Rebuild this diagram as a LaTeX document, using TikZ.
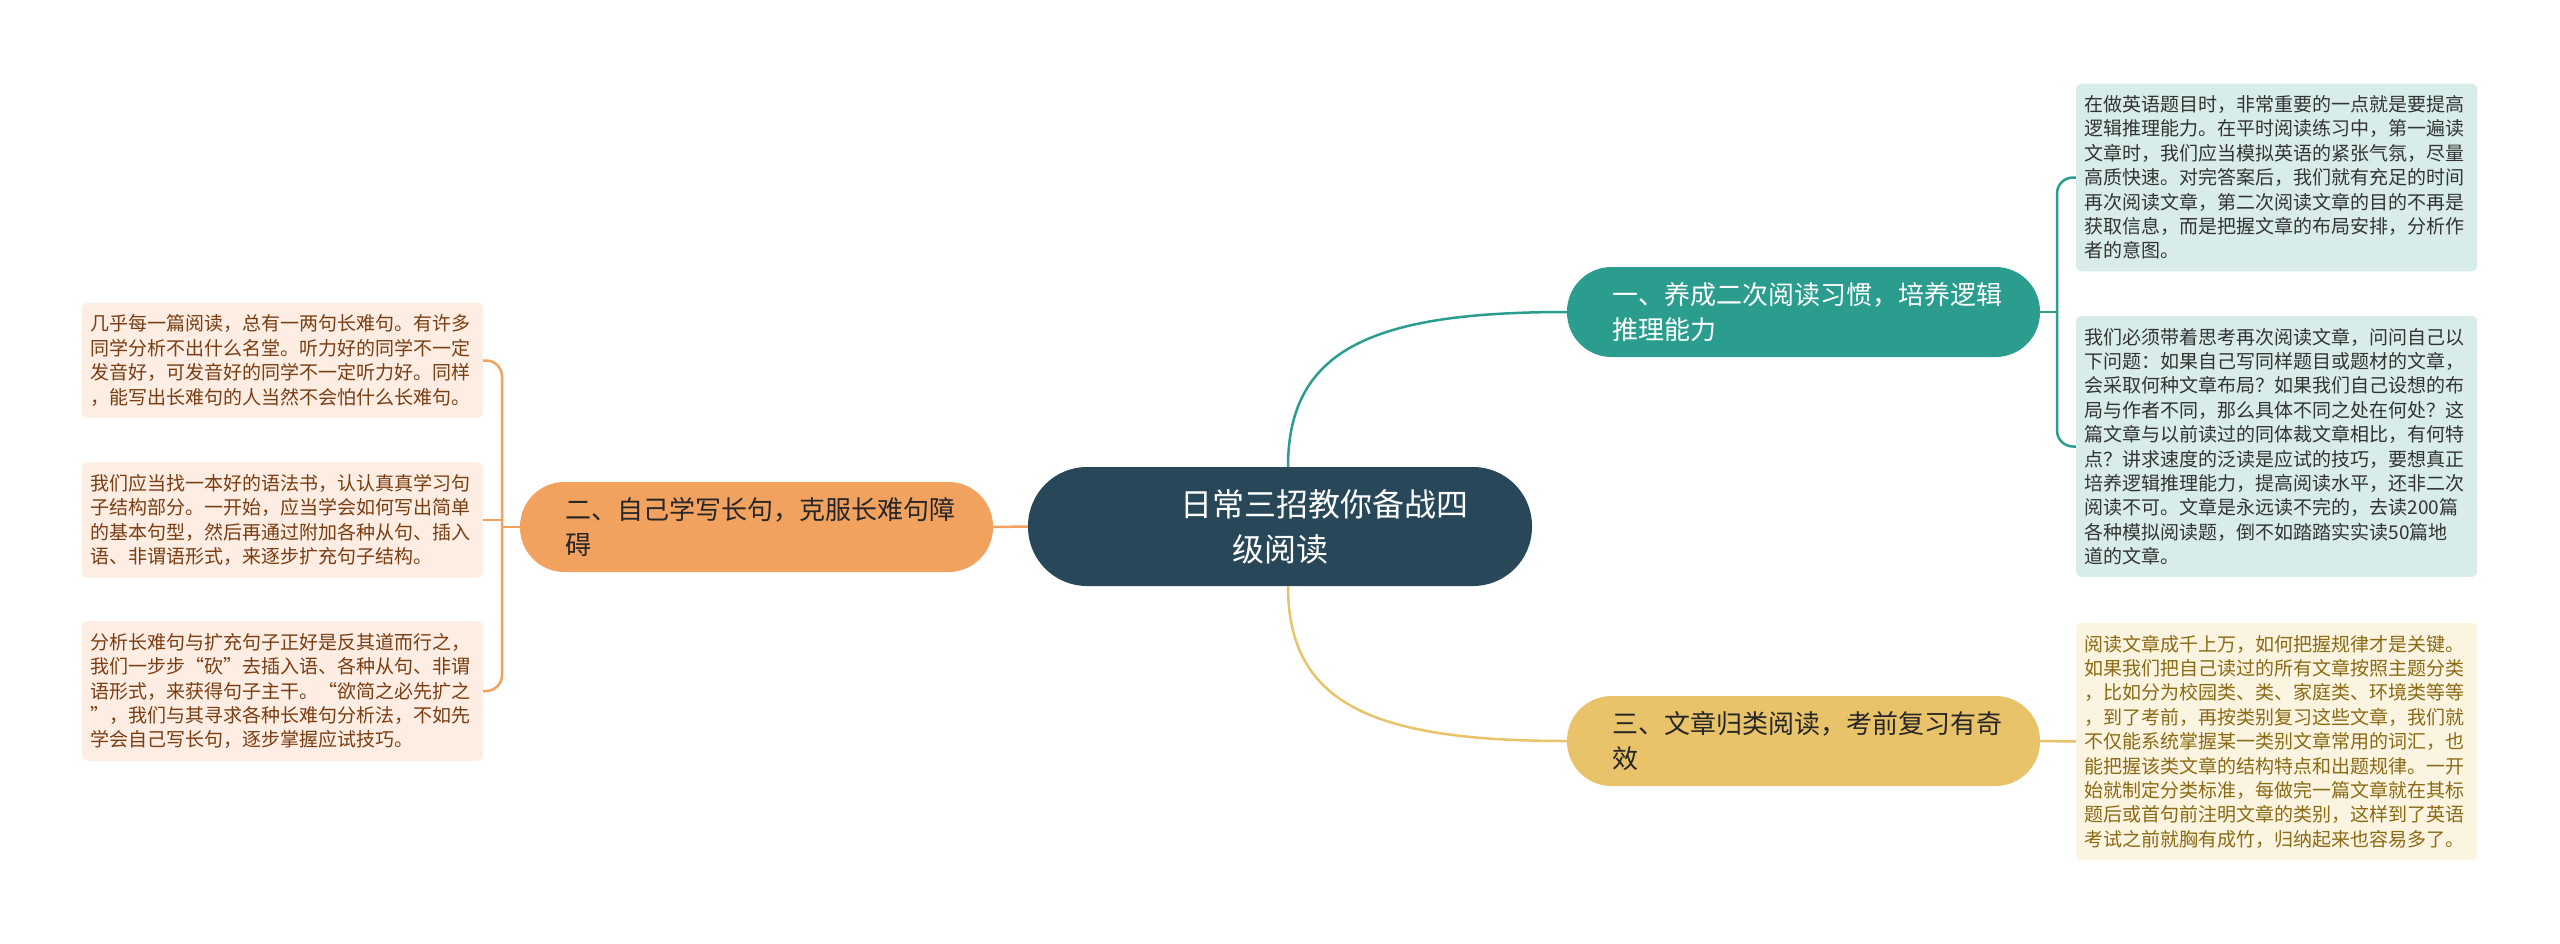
\documentclass[tikz,border=0pt]{standalone}
\usepackage{fontspec}
\setmainfont{Noto Sans CJK SC}
\usepackage{xcolor}
\usetikzlibrary{positioning}

\definecolor{rootfill}{HTML}{28485A}
\definecolor{tealc}{HTML}{2A9D8E}
\definecolor{orangec}{HTML}{F2A25F}
\definecolor{yellowc}{HTML}{E8C36A}
\definecolor{tealleaf}{HTML}{D8EDEA}
\definecolor{orangeleaf}{HTML}{FDEDE3}
\definecolor{yellowleaf}{HTML}{FBF4E1}
\definecolor{tealtext}{HTML}{333333}
\definecolor{orangetext}{HTML}{7A3D12}
\definecolor{yellowtext}{HTML}{8B6A14}

\begin{document}
\begin{tikzpicture}[
  x=1pt, y=-1pt,
  root/.style={fill=rootfill, text=white, rounded corners=59pt,
               minimum width=504pt, minimum height=119pt, align=center,
               font=\fontsize{32}{45}\selectfont},
  branch/.style={rounded corners=44.5pt, minimum width=473pt, minimum height=90pt,
                 text width=383pt, inner xsep=45pt, inner ysep=0pt, align=left,
                 font=\fontsize{26}{35}\selectfont},
  leaf/.style={rounded corners=6pt, text width=384pt, inner xsep=8.5pt,
               inner ysep=12pt, align=left, font=\fontsize{19}{24.4}\selectfont},
  link/.style={line width=2.5pt}
]
\useasboundingbox (0,0) rectangle (2560,943);

\node[root] (root) at (1280,526.5) {\hspace*{88pt}日常三招教你备战四\\级阅读};

\node[branch, fill=tealc, text=white] (b1) at (1803.5,312) {一、养成二次阅读习惯，培养逻辑\\推理能力};
\node[branch, fill=orangec, text=black!85] (b2) at (756.5,527) {二、自己学写长句，克服长难句障\\碍};
\node[branch, fill=yellowc, text=black!85] (b3) at (1803.5,741) {三、文章归类阅读，考前复习有奇\\效};

% right side
\node[leaf, fill=tealleaf, text=tealtext] (r1) at (2276.5,177.5) {在做英语题目时，非常重要的一点就是要提高\\
逻辑推理能力。在平时阅读练习中，第一遍读\\
文章时，我们应当模拟英语的紧张气氛，尽量\\
高质快速。对完答案后，我们就有充足的时间\\
再次阅读文章，第二次阅读文章的目的不再是\\
获取信息，而是把握文章的布局安排，分析作\\
者的意图。};
\node[leaf, fill=tealleaf, text=tealtext] (r2) at (2276.5,446.5) {我们必须带着思考再次阅读文章，问问自己以\\
下问题：如果自己写同样题目或题材的文章，\\
会采取何种文章布局？如果我们自己设想的布\\
局与作者不同，那么具体不同之处在何处？这\\
篇文章与以前读过的同体裁文章相比，有何特\\
点？讲求速度的泛读是应试的技巧，要想真正\\
培养逻辑推理能力，提高阅读水平，还非二次\\
阅读不可。文章是永远读不完的，去读200篇\\
各种模拟阅读题，倒不如踏踏实实读50篇地\\
道的文章。};
\node[leaf, fill=yellowleaf, text=yellowtext] (r3) at (2276.5,741.5) {阅读文章成千上万，如何把握规律才是关键。\\
如果我们把自己读过的所有文章按照主题分类\\
，比如分为校园类、类、家庭类、环境类等等\\
，到了考前，再按类别复习这些文章，我们就\\
不仅能系统掌握某一类别文章常用的词汇，也\\
能把握该类文章的结构特点和出题规律。一开\\
始就制定分类标准，每做完一篇文章就在其标\\
题后或首句前注明文章的类别，这样到了英语\\
考试之前就胸有成竹，归纳起来也容易多了。};

% left side
\node[leaf, fill=orangeleaf, text=orangetext] (l1) at (282.5,360.5) {几乎每一篇阅读，总有一两句长难句。有许多\\
同学分析不出什么名堂。听力好的同学不一定\\
发音好，可发音好的同学不一定听力好。同样\\
，能写出长难句的人当然不会怕什么长难句。};
\node[leaf, fill=orangeleaf, text=orangetext] (l2) at (282.5,520) {我们应当找一本好的语法书，认认真真学习句\\
子结构部分。一开始，应当学会如何写出简单\\
的基本句型，然后再通过附加各种从句、插入\\
语、非谓语形式，来逐步扩充句子结构。};
\node[leaf, fill=orangeleaf, text=orangetext] (l3) at (282.5,691) {分析长难句与扩充句子正好是反其道而行之，\\
我们一步步“砍”去插入语、各种从句、非谓\\
语形式，来获得句子主干。“欲简之必先扩之\\
”，我们与其寻求各种长难句分析法，不如先\\
学会自己写长句，逐步掌握应试技巧。};

\coordinate (j1) at (2057,312);
\coordinate (j2) at (502,527);

% connectors
\draw[link, tealc] ([xshift=8pt]root.north) .. controls +(0,-120) and +(-190,0) .. (b1.west);
\draw[link, yellowc] ([xshift=8pt]root.south) .. controls +(0,120) and +(-190,0) .. (b3.west);
\draw[link, orangec] (root.west) -- (b2.east);

\draw[link, tealc] (b1.east) -- (j1);
\draw[link, tealc, rounded corners=16pt] (r1.west) -| (j1) |- (r2.west);
\draw[link, yellowc] (b3.east) -- (r3.west);

\draw[link, orangec] (b2.west) -- (j2);
\draw[link, orangec, rounded corners=16pt] (l1.east) -| (j2) |- (l3.east);
\draw[link, orangec] (l2.east) -- (l2.east -| j2);
\end{tikzpicture}
\end{document}
